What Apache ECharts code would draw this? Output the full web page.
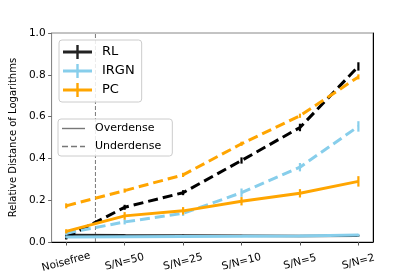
<!DOCTYPE html>
<html><head><meta charset="utf-8">
<script src="https://cdn.jsdelivr.net/npm/echarts@6/dist/echarts.min.js"></script>
<style>html,body{margin:0;padding:0;background:#fff}#c{width:415px;height:277px}</style>
</head><body><div id="c"></div>
<script>
const categories = ['Noisefree','S/N=50','S/N=25','S/N=10','S/N=5','S/N=2'];
const rlOver      = [0.034, 0.032, 0.031, 0.030, 0.029, 0.030];
const rlOverErr   = [0.004, 0.004, 0.004, 0.004, 0.004, 0.004];
const rlUnder     = [0.022, 0.166, 0.236, 0.390, 0.548, 0.840];
const rlUnderErr  = [0.010, 0.012, 0.012, 0.015, 0.018, 0.020];
const irgnOver    = [0.024, 0.025, 0.026, 0.027, 0.029, 0.033];
const irgnOverErr = [0.004, 0.004, 0.004, 0.004, 0.005, 0.006];
const irgnUnder   = [0.042, 0.096, 0.137, 0.236, 0.358, 0.553];
const irgnUnderErr= [0.010, 0.012, 0.012, 0.020, 0.020, 0.025];
const pcOver      = [0.051, 0.125, 0.149, 0.195, 0.233, 0.290];
const pcOverErr   = [0.010, 0.018, 0.018, 0.020, 0.020, 0.025];
const pcUnder     = [0.173, 0.246, 0.321, 0.470, 0.604, 0.790];
const pcUnderErr  = [0.012, 0.010, 0.010, 0.010, 0.010, 0.012];
const separatorX  = 0.5;
const yTicks = [0, 0.2, 0.4, 0.6, 0.8, 1.0];

const FONT = 'DejaVu Sans';
const colors = {RL: '#000000', IRGN: '#87CEEB', PC: '#FFA500'};
const pts = arr => arr.map((v, i) => [i, v]);
const errPts = (arr, err) => arr.map((v, i) => [i, v - err[i], v + err[i]]);

function lineSeries(name, data, dashed, color, width, z) {
  return {
    type: 'line', name: name, data: pts(data), symbol: 'none', z: z,
    lineStyle: {color: color, width: width, type: dashed ? [10, 5] : 'solid', cap: 'butt'},
    itemStyle: {color: color}, silent: true
  };
}
function errSeries(data, err, color, z) {
  return {
    type: 'custom', data: errPts(data, err), z: z, silent: true,
    renderItem: function (params, api) {
      const x = api.value(0);
      const p1 = api.coord([x, api.value(1)]);
      const p2 = api.coord([x, api.value(2)]);
      return {type: 'line', shape: {x1: p1[0], y1: p1[1], x2: p2[0], y2: p2[1]},
              style: {stroke: color, lineWidth: 2.2}};
    }
  };
}

const plusIcon = 'path://M0,5.5H29V8.5H0Z M13.3,0H15.7V14H13.3Z';
const solidIcon = 'path://M0,4.3H23V5.7H0Z';
const dashIcon = 'path://M0,4.3H6V5.7H0Z M9,4.3H15V5.7H9Z M18,4.3H23V5.7H18Z';

const option = {
  animation: false,
  grid: {left: 51, top: 33, right: 42, bottom: 35, show: true, borderColor: '#888', borderWidth: 1},
  legend: [
    {
      data: [{name: 'RL', icon: plusIcon}, {name: 'IRGN', icon: plusIcon}, {name: 'PC', icon: plusIcon}],
      orient: 'vertical', left: 59, top: 40, padding: [5, 7, 5, 4],
      itemWidth: 29, itemHeight: 14, itemGap: 5,
      backgroundColor: 'rgba(255,255,255,0.85)', borderColor: '#cccccc', borderWidth: 1, borderRadius: 3,
      textStyle: {fontFamily: FONT, fontSize: 13, color: '#000', padding: [0, 0, 0, 5]},
      selectedMode: false
    },
    {
      data: [{name: 'Overdense', icon: solidIcon}, {name: 'Underdense', icon: dashIcon}],
      orient: 'vertical', left: 58, top: 119, padding: [4, 11, 4, 4],
      itemWidth: 23, itemHeight: 10, itemGap: 7,
      backgroundColor: 'rgba(255,255,255,0.85)', borderColor: '#cccccc', borderWidth: 1, borderRadius: 3,
      textStyle: {fontFamily: FONT, fontSize: 11, color: '#000', padding: [0, 0, 0, 5]},
      selectedMode: false
    }
  ],
  xAxis: {
    type: 'value', min: -0.25, max: 5.25,
    splitLine: {show: false},
    axisLine: {show: true, onZero: false, lineStyle: {color: '#000', width: 1}},
    axisTick: {show: true, length: 3.5, lineStyle: {color: '#555'}, customValues: [0, 1, 2, 3, 4, 5]},
    axisLabel: {
      customValues: [0, 1, 2, 3, 4, 5],
      formatter: v => categories[Math.round(v)],
      rotate: 15, align: 'center', verticalAlign: 'middle', margin: 20,
      fontFamily: FONT, fontSize: 10.5, color: '#000'
    }
  },
  yAxis: [
    {
      type: 'value', min: 0, max: 1, interval: 0.2,
      name: 'Relative Distance of Logarithms', nameLocation: 'middle', nameGap: 27,
      nameTextStyle: {fontFamily: FONT, fontSize: 10, color: '#000'},
      splitLine: {show: false},
      axisLine: {show: true, onZero: false, lineStyle: {color: '#888', width: 1}},
      axisTick: {show: true, length: 3.5, lineStyle: {color: '#666'}},
      axisLabel: {formatter: v => v.toFixed(1), margin: 6, fontFamily: FONT, fontSize: 10.5, color: '#000'}
    },
    {
      type: 'value', min: 0, max: 1, position: 'right',
      axisLine: {show: true, onZero: false, lineStyle: {color: '#000', width: 1}},
      axisTick: {show: false}, axisLabel: {show: false}, splitLine: {show: false}
    }
  ],
  series: [
    {
      type: 'line', name: 'sep', data: [[separatorX, yTicks[0]], [separatorX, yTicks[yTicks.length - 1]]],
      symbol: 'none', z: 1, silent: true,
      lineStyle: {color: '#777', width: 1, type: [4, 2]}
    },
    {type: 'line', name: 'Overdense', data: [], symbol: 'none', lineStyle: {color: '#777', width: 1.5}, itemStyle: {color: '#777'}},
    {type: 'line', name: 'Underdense', data: [], symbol: 'none', lineStyle: {color: '#777', width: 1.5}, itemStyle: {color: '#777'}},

    lineSeries('RL', rlOver, false, '#222', 2.5, 3),
    errSeries(rlOver, rlOverErr, '#222', 3),
    lineSeries('RL', rlUnder, true, colors.RL, 3, 3),
    errSeries(rlUnder, rlUnderErr, colors.RL, 3),

    lineSeries('IRGN', irgnOver, false, colors.IRGN, 3, 4),
    errSeries(irgnOver, irgnOverErr, colors.IRGN, 4),
    lineSeries('IRGN', irgnUnder, true, colors.IRGN, 3, 4),
    errSeries(irgnUnder, irgnUnderErr, colors.IRGN, 4),

    lineSeries('PC', pcOver, false, colors.PC, 3, 5),
    errSeries(pcOver, pcOverErr, colors.PC, 5),
    lineSeries('PC', pcUnder, true, colors.PC, 3, 5),
    errSeries(pcUnder, pcUnderErr, colors.PC, 5)
  ]
};
const chart = echarts.init(document.getElementById('c'), null, {renderer: 'canvas'});
chart.setOption(option);
</script></body></html>
